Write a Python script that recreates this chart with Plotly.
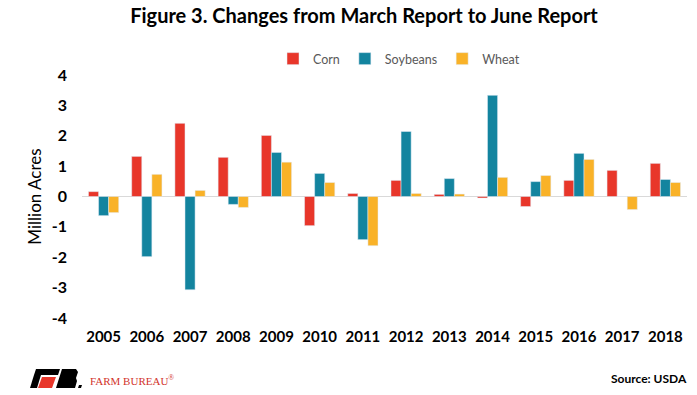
import plotly.graph_objects as go

years = ["2005", "2006", "2007", "2008", "2009", "2010", "2011",
         "2012", "2013", "2014", "2015", "2016", "2017", "2018"]
corn = [0.16, 1.32, 2.41, 1.29, 2.01, -0.96, 0.10, 0.53, 0.07, -0.05, -0.33, 0.53, 0.86, 1.09]
soybeans = [-0.63, -1.98, -3.07, -0.26, 1.45, 0.76, -1.42, 2.14, 0.59, 3.33, 0.49, 1.42, 0.0, 0.56]
wheat = [-0.53, 0.73, 0.20, -0.36, 1.13, 0.46, -1.62, 0.10, 0.08, 0.63, 0.69, 1.22, -0.43, 0.46]
y_ticks = [-4, -3, -2, -1, 0, 1, 2, 3, 4]
y_tick_labels = ["-4", "-3", "-2", "-1", "0", "1", "2", "3", "4"]

W, H = 697, 395
L, R, T, B = 82, 10, 75, 77
PW, PH = W - L - R, H - T - B


def px(x):
    return (x - L) / PW


def py(y):
    return (H - B - y) / PH


FONT = "Lato"
fig = go.Figure()
fig.add_trace(go.Bar(x=years, y=corn, name="Corn", marker_color="#E8362A"))
fig.add_trace(go.Bar(x=years, y=soybeans, name="Soybeans", marker_color="#13849F"))
fig.add_trace(go.Bar(x=years, y=wheat, name="Wheat", marker_color="#F9B228"))

fig.update_layout(
    width=W, height=H,
    margin=dict(l=L, r=R, t=T, b=B),
    paper_bgcolor="white", plot_bgcolor="white",
    barmode="group", bargap=0.3, bargroupgap=0,
    font=dict(family=FONT, color="black"),
    title=dict(text="<b>Figure 3. Changes from March Report to June Report</b>",
               x=px(364), xref="paper", xanchor="center", y=1 - 16 / H, yanchor="middle",
               font=dict(size=20, family=FONT, color="black")),
    legend=dict(orientation="h", x=px(399), xanchor="center", y=py(59), yanchor="middle",
                font=dict(size=12.5, family=FONT, color="#595959"),
                itemwidth=30, tracegroupgap=0, bgcolor="rgba(0,0,0,0)"),
    showlegend=True,
)
fig.update_xaxes(showline=False, showgrid=False, ticks="", ticklabelstandoff=8,
                 tickfont=dict(size=15, family=FONT, color="black", weight="bold"))
fig.update_yaxes(range=[-4, 4], tickvals=y_ticks, ticktext=y_tick_labels,
                 showgrid=False, showline=False, zeroline=True,
                 zerolinecolor="#D9D9D9", zerolinewidth=1, ticks="", ticklabelstandoff=14,
                 tickfont=dict(size=16, family=FONT, color="black", weight="bold"),
                 title=dict(text="Million Acres", standoff=5,
                            font=dict(size=17, family=FONT, color="black")))

# Farm Bureau logo (decorative)
shapes = []
def poly(pts, color):
    d = "M " + " L ".join(f"{px(x):.5f},{py(y):.5f}" for x, y in pts) + " Z"
    shapes.append(dict(type="path", path=d, xref="paper", yref="paper",
                       fillcolor=color, line=dict(width=0)))

poly([(36, 369), (60, 369), (58, 375), (34, 375)], "black")
poly([(34, 375), (41, 375), (37, 388), (30, 388)], "black")
poly([(42, 377), (56, 377), (52, 388), (38, 388)], "#E8362A")
poly([(62, 369), (76, 369), (78, 372), (76, 378), (77, 381), (75, 388), (56, 388)], "black")
poly([(79, 385), (82, 385), (81, 388), (78, 388)], "black")
fig.update_layout(shapes=shapes)

fig.add_annotation(text="FARM BUREAU<sup>®</sup>", x=px(88), y=py(380), xref="paper", yref="paper",
                   xanchor="left", yanchor="middle", showarrow=False,
                   font=dict(size=11, family="Liberation Serif", color="#D2342C"))
fig.add_annotation(text="<b>Source: USDA</b>", x=px(689), y=py(378), xref="paper", yref="paper",
                   xanchor="right", yanchor="middle", showarrow=False,
                   font=dict(size=12, family=FONT, color="black"))

fig.write_html("out.html", config={"displayModeBar": False},
               post_script="document.body.style.margin='0';")
